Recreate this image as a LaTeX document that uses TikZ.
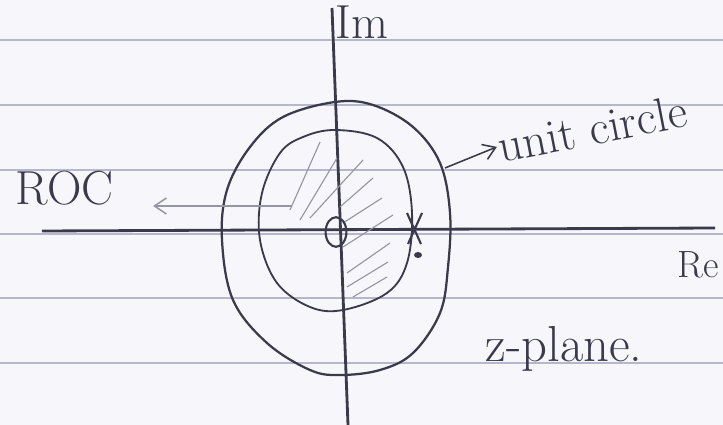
\documentclass[tikz,border=0pt]{standalone}
\usepackage{tikz}
\usetikzlibrary{arrows.meta, positioning, shapes.geometric}
\definecolor{cPaper}{RGB}{246,246,251}
\definecolor{cRule}{RGB}{180,184,202}
\definecolor{cInk}{RGB}{58,58,74}
\definecolor{cPencil}{RGB}{150,150,162}
\tikzset{
	handtext/.style={text=cInk, inner sep=1pt, font=\fontsize{34}{38}\selectfont},
	ruleline/.style={draw=cRule, line width=1pt},
	axisline/.style={draw=cInk, line width=2pt},
	inkline/.style={draw=cInk, line width=1.6pt},
	hatchline/.style={draw=cPencil, line width=0.8pt},
	pointer/.style={-{Straight Barb[length=3mm, width=4mm]}, line width=1.1pt},
	% pole-zero marks
	zeromark/.style={draw=cInk, ellipse, line width=1.5pt, minimum width=0.52cm, minimum height=0.74cm, inner sep=0pt},
}

\begin{document}
\begin{tikzpicture}[x=0.025cm, y=-0.025cm]
	\fill[cPaper] (0,0) rectangle (723,425);
	\useasboundingbox (0,0) rectangle (723,425);
	% ruled paper
	\foreach \ry in {40,105,170,234,298,363}
		\draw[ruleline] (0,\ry) -- (723,\ry);
	% axes
	\coordinate (reL) at (42,231);
	\coordinate (reR) at (715,228);
	\coordinate (imT) at (332,8);
	\coordinate (imB) at (348,425);
	\draw[axisline] (reL) -- (reR);
	\draw[axisline] (imT) -- (imB);
	% unit circle and ROC
	\draw[inkline] plot[smooth cycle, tension=0.6] coordinates {(335,102) (373,105) (413,127) (440,163) (450,213) (448,267) (440,313) (413,353) (380,370) (340,375) (310,370) (267,343) (233,300) (222,240) (227,190) (250,147) (283,117)};
	\draw[inkline, line width=1.3pt] plot[smooth cycle, tension=0.6] coordinates {(335,130) (377,138) (403,167) (412,213) (407,263) (387,293) (343,310) (310,307) (277,283) (260,240) (262,193) (280,153) (303,137)};
	\foreach \ax/\ay/\bx/\by in {290/210/320/142, 300/220/337/158, 310/218/363/160, 340/207/373/178, 343/223/382/198, 343/247/393/215, 347/273/390/243, 347/287/388/262, 353/297/387/277}
		\draw[hatchline] (\ax,\ay) -- (\bx,\by);
	% zero and pole
	\node[zeromark] (zero) at (336,232) {};
	\draw[inkline, line width=1.5pt] (407,213) -- (421,244) (422,213) -- (408,244);
	\fill[cInk] (418,255) ellipse [x radius=4, y radius=3];
	% labels
	\node[handtext, anchor=base west] (roc) at (14,205) {ROC};
	\node[handtext, anchor=base west, rotate=11] (unit) at (500,163) {unit circle};
	\node[handtext, font=\fontsize{27}{30}\selectfont, anchor=base west] (re) at (676,278) {Re};
	\node[handtext, anchor=base west] (im) at (334,39) {Im};
	\node[handtext, font=\fontsize{36}{40}\selectfont, anchor=base west] (zplane) at (484,362) {z-plane.};
	% pointers
	\coordinate (rocfrom) at (292,206);
	\coordinate (unitfrom) at (445,168);
	\draw[pointer, draw=cPencil] (rocfrom) -- (roc.east |- rocfrom) [shorten >=0.95cm];
	\draw[pointer, draw=cInk] (unitfrom) -- (unit.west);
\end{tikzpicture}
\end{document}
